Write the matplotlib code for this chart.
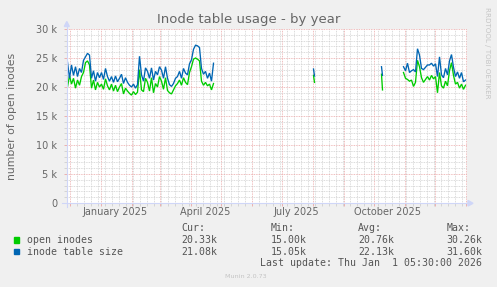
import matplotlib
matplotlib.use("Agg")
import matplotlib.pyplot as plt
import matplotlib.dates as mdates
from matplotlib.patches import Polygon, Rectangle
from matplotlib.lines import Line2D
from matplotlib.ticker import FixedLocator, MultipleLocator
import pandas as pd

W, H = 497, 287

TITLE = "Inode table usage - by year"
YLABEL = "number of open inodes"
WATERMARK_RIGHT = "RRDTOOL / TOBI OETIKER"
WATERMARK_BOTTOM = "Munin 2.0.73"
LAST_UPDATE = "Last update: Thu Jan  1 05:30:00 2026"

# ---- data (values in thousands) ----
seg1_start = "2024-11-29"   # every 2 days
seg1_open = [20.0, 22.0, 20.5, 21.5, 19.8, 21.2, 20.3, 21.8, 22.5, 24.2, 24.5, 23.8,
             19.8, 21.2, 19.5, 20.8, 20.0, 20.5, 19.6, 21.4, 20.2, 19.5, 20.5, 19.3,
             20.3, 19.2, 20.0, 20.6, 18.8, 19.8, 19.3, 18.9, 18.6, 19.2, 18.7, 19.1,
             23.0, 19.5, 19.2, 21.5, 20.8, 19.3, 21.6, 19.0, 20.6, 20.0, 21.8, 21.0,
             19.6, 21.6, 19.4, 19.0, 18.8, 19.5, 20.2, 20.6, 21.2, 20.3, 21.6, 20.8,
             20.4, 22.5, 23.5, 24.8, 25.0, 24.8, 24.5, 21.0, 20.3, 20.8, 20.2, 20.5,
             19.5, 20.6]
seg1_size = [24.3, 21.5, 23.8, 22.0, 23.5, 21.8, 23.2, 22.5, 24.6, 25.2, 25.8, 25.5,
             21.5, 22.8, 21.0, 22.5, 21.6, 22.5, 21.3, 23.2, 21.8, 21.0, 21.8, 20.8,
             21.9, 20.9, 21.5, 22.2, 20.6, 21.6, 20.8, 20.3, 20.0, 20.5, 19.8, 20.4,
             25.3, 22.1, 21.0, 23.3, 22.7, 21.5, 23.3, 21.2, 22.7, 22.1, 23.5, 22.9,
             21.5, 23.5, 21.5, 20.4, 20.1, 20.6, 21.5, 21.8, 22.7, 21.5, 23.2, 22.4,
             22.1, 24.0, 24.7, 26.5, 27.2, 27.1, 26.8, 23.2, 22.2, 22.7, 21.5, 22.4,
             21.0, 24.1]

blip1_start = "2025-08-02"  # daily
blip1_open = [22.0, 20.8]
blip1_size = [23.1, 21.9]

blip2_start = "2025-10-09"  # daily
blip2_open = [22.2, 19.5]
blip2_size = [23.5, 22.0]

seg3_start = "2025-10-31"   # every 2 days
seg3_open = [22.5, 21.5, 21.3, 21.0, 21.2, 20.1, 20.8, 24.6, 23.5, 21.6, 20.8, 21.3,
             21.8, 21.2, 22.0, 21.4, 21.8, 19.0, 22.5, 20.2, 19.8, 21.0, 20.2, 22.8,
             24.2, 22.0, 20.5, 20.8, 19.8, 20.5, 19.6, 20.3]
seg3_size = [23.5, 22.8, 24.1, 22.5, 22.8, 23.0, 22.6, 26.6, 25.5, 23.2, 23.0, 23.4,
             23.8, 23.8, 24.1, 23.6, 24.0, 21.8, 25.2, 22.1, 21.6, 23.2, 22.1, 24.5,
             25.6, 23.4, 21.8, 22.6, 21.5, 22.5, 20.9, 21.2]

series_names = ["open inodes", "inode table size"]
series_colors = ["#00CC00", "#0066B3"]
legend_cur = ["20.33k", "21.08k"]
legend_min = ["15.00k", "15.05k"]
legend_avg = ["20.76k", "22.13k"]
legend_max = ["30.26k", "31.60k"]

ytick_values = [0, 5000, 10000, 15000, 20000, 25000, 30000]
ytick_labels = ["0", "5 k", "10 k", "15 k", "20 k", "25 k", "30 k"]
xlabel_dates = ["2025-01-15 12:00", "2025-04-15 12:00", "2025-07-15 12:00", "2025-10-15 12:00"]
xlabel_texts = ["January 2025", "April 2025", "July 2025", "October 2025"]

x_start = pd.Timestamp("2024-11-28 00:00")
x_end = pd.Timestamp("2026-01-03 00:00")

# ---- colours / styles ----
BG = "#F0F0F0"
FONT = "#666666"
LEGEND_FONT = "#555555"
AXIS = "#CFD6F8"
MGRID = "#EBA7A7"
GRID = "#CFCFCF"

plt.rcParams['font.family'] = ['DejaVu Sans']

fig = plt.figure(figsize=(W / 100, H / 100), dpi=100, facecolor=BG)

def fx(px):
    return px / W

def fy(py):
    return 1 - py / H

L, R, T, B = 66.5, 467.5, 29, 203
ax = fig.add_axes([fx(L), fy(B), (R - L) / W, (B - T) / H])
ax.set_facecolor("white")
for s in ax.spines.values():
    s.set_visible(False)

ax.set_xlim(x_start, x_end)
ax.set_ylim(0, 30000)

# grids
ax.xaxis.set_major_locator(mdates.MonthLocator())
ax.xaxis.set_minor_locator(mdates.WeekdayLocator(byweekday=mdates.SU))
ax.yaxis.set_major_locator(FixedLocator(ytick_values))
ax.yaxis.set_minor_locator(MultipleLocator(1000))
ax.set_xticklabels([])
ax.set_yticklabels(ytick_labels)

ax.grid(True, which="minor", color=GRID, linestyle=(0, (1, 1)), linewidth=0.6, snap=True)
ax.grid(True, which="major", color=MGRID, linestyle=(0, (1, 1)), linewidth=0.6, snap=True)
ax.set_axisbelow(True)

ax.tick_params(axis="both", which="major", direction="out", length=2.2, width=0.6,
               color=MGRID, labelsize=7, labelcolor=FONT)
ax.tick_params(axis="both", which="minor", direction="out", length=2.2, width=0.6,
               color=GRID)
ax.tick_params(axis="y", which="major", pad=4.3)

for d, t in zip(xlabel_dates, xlabel_texts):
    ax.text(pd.Timestamp(d), -0.05, t, transform=ax.get_xaxis_transform(),
            ha="center", va="center", fontsize=7, color=FONT, clip_on=False)

# data
def plot_seg(start, vals, freq, color):
    dates = pd.date_range(start, periods=len(vals), freq=freq)
    ax.plot(dates, [v * 1000 for v in vals], color=color, linewidth=0.95,
            solid_joinstyle="miter", zorder=3)

for start, o, s, freq in [(seg1_start, seg1_open, seg1_size, "2D"),
                          (blip1_start, blip1_open, blip1_size, "D"),
                          (blip2_start, blip2_open, blip2_size, "D"),
                          (seg3_start, seg3_open, seg3_size, "2D")]:
    plot_seg(start, o, freq, series_colors[0])
    plot_seg(start, s, freq, series_colors[1])

# axes lines and arrows
fig.add_artist(Line2D([fx(62), fx(468)], [fy(203.3), fy(203.3)], color=AXIS, linewidth=0.8))
fig.add_artist(Line2D([fx(66.8), fx(66.8)], [fy(207), fy(26)], color=AXIS, linewidth=0.8))
fig.add_artist(Polygon([(fx(468), fy(200.5)), (fx(468), fy(206)), (fx(473), fy(203.3))],
                       closed=True, color=AXIS, transform=fig.transFigure))
fig.add_artist(Polygon([(fx(64.3), fy(26.5)), (fx(69.3), fy(26.5)), (fx(66.8), fy(21.5))],
                       closed=True, color=AXIS, transform=fig.transFigure))

# title and labels
fig.text(fx(249), fy(19), TITLE, ha="center", va="center", fontsize=9.5, color=FONT)
fig.text(fx(11.7), fy(116), YLABEL, ha="center", va="center", rotation=90,
         fontsize=7.8, color=FONT)
fig.text(fx(487.5), fy(53), WATERMARK_RIGHT, ha="center", va="center", rotation=270,
         fontsize=5.1, color="#C4C4C4")

# legend
MONO = "DejaVu Sans Mono"
fs = 7.1
fig.text(fx(181), fy(228), "Cur:", ha="left", va="center", fontsize=fs, family=MONO, color=LEGEND_FONT)
fig.text(fx(270.7), fy(228), "Min:", ha="left", va="center", fontsize=fs, family=MONO, color=LEGEND_FONT)
fig.text(fx(358.3), fy(228), "Avg:", ha="left", va="center", fontsize=fs, family=MONO, color=LEGEND_FONT)
fig.text(fx(446.7), fy(228), "Max:", ha="left", va="center", fontsize=fs, family=MONO, color=LEGEND_FONT)
row_y = [240, 251.7]
for i in range(2):
    y = row_y[i]
    fig.add_artist(Rectangle((fx(14), fy(y + 2.6)), 5.3 / W, 5.3 / H, color=series_colors[i],
                             transform=fig.transFigure))
    fig.text(fx(26.7), fy(y), series_names[i], ha="left", va="center", fontsize=fs, family=MONO, color=LEGEND_FONT)
    fig.text(fx(181), fy(y), legend_cur[i], ha="left", va="center", fontsize=fs, family=MONO, color=LEGEND_FONT)
    fig.text(fx(270.7), fy(y), legend_min[i], ha="left", va="center", fontsize=fs, family=MONO, color=LEGEND_FONT)
    fig.text(fx(358.3), fy(y), legend_avg[i], ha="left", va="center", fontsize=fs, family=MONO, color=LEGEND_FONT)
    fig.text(fx(446.7), fy(y), legend_max[i], ha="left", va="center", fontsize=fs, family=MONO, color=LEGEND_FONT)
fig.text(fx(482.3), fy(263.3), LAST_UPDATE, ha="right", va="center", fontsize=fs, family=MONO, color=LEGEND_FONT)
fig.text(fx(245.7), fy(276), WATERMARK_BOTTOM, ha="center", va="center", fontsize=4.6, color="#C4C4C4")

fig.savefig("out.png", dpi=100, facecolor=BG)
